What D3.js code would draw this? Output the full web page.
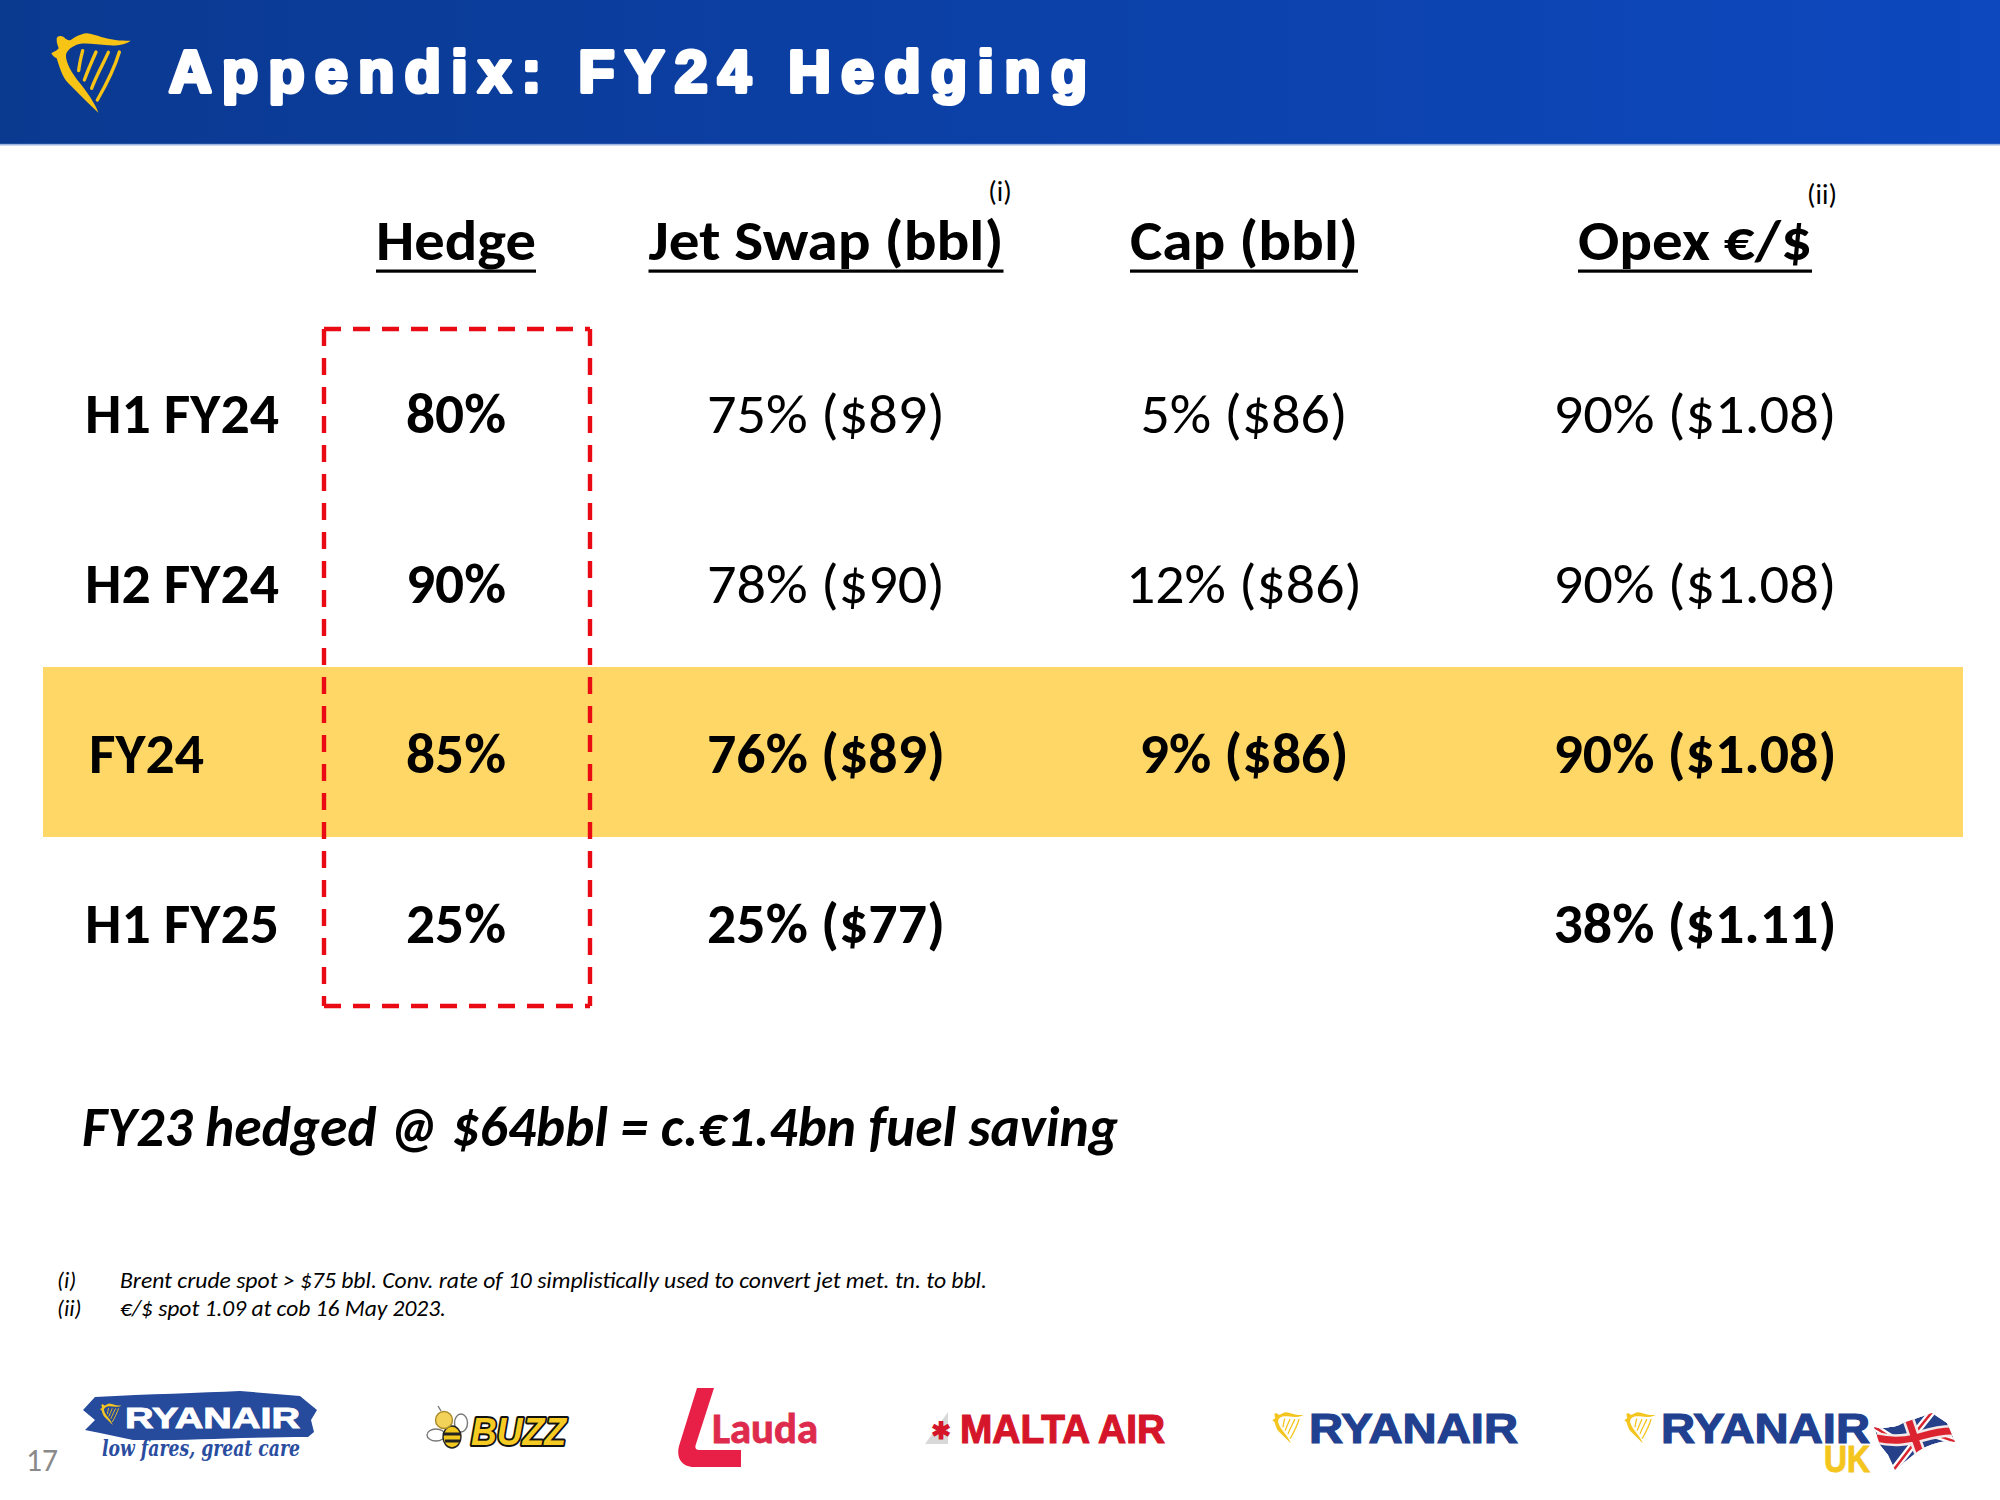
<!DOCTYPE html>
<html><head><meta charset="utf-8">
<script src="https://cdn.jsdelivr.net/npm/d3@7"></script>
<style>html,body{margin:0;padding:0;background:#fff}svg{display:block}</style>
</head><body><div id="chart"></div>
<script>
const titleText = "Appendix: FY24 Hedging";
const columns = ["Hedge","Jet Swap (bbl)","Cap (bbl)","Opex €/$"];
const rowLabels = ["H1 FY24","H2 FY24","FY24","H1 FY25"];
const hedge = ["80%","90%","85%","25%"];
const jetSwap = ["75% ($89)","78% ($90)","76% ($89)","25% ($77)"];
const cap = ["5% ($86)","12% ($86)","9% ($86)",""];
const opex = ["90% ($1.08)","90% ($1.08)","90% ($1.08)","38% ($1.11)"];
const boldRows = [false,false,true,true];
const note = "FY23 hedged @ $64bbl = c.€1.4bn fuel saving";
const footMarks = ["(i)","(ii)"];
const footnotes = ["Brent crude spot > $75 bbl. Conv. rate of 10 simplistically used to convert jet met. tn. to bbl.","€/$ spot 1.09 at cob 16 May 2023."];
const pageNumber = "17";

const W=2000,H=1500,FONT="Carlito,Lato,'Open Sans',sans-serif";
const svg=d3.select("#chart").append("svg").attr("width",W).attr("height",H).attr("viewBox",`0 0 ${W} ${H}`).style("font-family",FONT);
svg.append("rect").attr("width",W).attr("height",H).attr("fill","#fff");
const defs=svg.append("defs");
const g=defs.append("linearGradient").attr("id","hdr");
g.append("stop").attr("offset","0").attr("stop-color","#0a3990");
g.append("stop").attr("offset","1").attr("stop-color","#0d48be");
svg.append("rect").attr("width",W).attr("height",144).attr("fill","url(#hdr)");
svg.append("rect").attr("y",143.5).attr("width",W).attr("height",2).attr("fill","#5d83c4").attr("opacity",.6);

function harp(sel,x,y,s,fill){
  const h=sel.append("g").attr("transform",`translate(${x},${y}) scale(${s})`);
  h.append("path").attr("fill",fill).attr("d","M50,60 C48,48 62,45 72,52 C78,58 84,62 92,60 C105,52 120,42 140,40 C170,42 200,65 272,62 C260,72 235,78 205,76 C175,74 140,68 118,72 C95,78 80,92 78,105 C76,125 95,160 120,190 C140,215 165,250 175,278 C150,255 110,215 85,190 C65,170 55,130 50,115 C42,112 36,105 34,100 C42,95 52,92 56,85 C54,78 50,70 50,60Z");
  h.append("path").attr("fill","none").attr("stroke",fill).attr("stroke-width",10).attr("stroke-linecap","round")
    .attr("d","M128,92 C122,115 118,135 116,152 M168,96 C155,125 142,155 133,180 M205,97 C190,130 165,175 155,205 M238,96 C225,140 195,200 172,240");
}
harp(svg,40,20,1/3,"#f7c416");
svg.append("text").attr("x",169).attr("y",92).attr("fill","#fff").attr("stroke","#fff").attr("stroke-width",4.2).attr("stroke-linejoin","round")
  .style("font-family","'Liberation Sans',Arial,sans-serif").style("font-weight",700).style("font-size","59px")
  .attr("textLength",918).attr("lengthAdjust","spacing").text(titleText);

const x=d3.scalePoint().domain(columns).range([456,1695]);
const colX={"Hedge":456,"Jet Swap (bbl)":826,"Cap (bbl)":1244,"Opex €/$":1695};
const y=d3.scaleBand().domain(rowLabels).range([327,1007]).paddingInner(0).paddingOuter(0);

svg.append("rect").attr("x",43).attr("width",1920).attr("y",y("FY24")).attr("height",y.bandwidth()).attr("fill","#ffd766");

const FS=56;
const headerW={"Hedge":160,"Jet Swap (bbl)":355,"Cap (bbl)":228,"Opex €/$":234};
columns.forEach(c=>{
  svg.append("text").attr("x",colX[c]).attr("y",260).attr("text-anchor","middle")
    .style("font-weight",700).style("font-size",FS+"px").attr("fill","#000")
    .attr("textLength",headerW[c]).attr("lengthAdjust","spacingAndGlyphs").text(c);
  svg.append("rect").attr("x",colX[c]-headerW[c]/2).attr("y",269.5).attr("width",headerW[c]).attr("height",3.2).attr("fill","#000");
});
svg.append("text").attr("x",1000).attr("y",201).attr("text-anchor","middle").style("font-size","28px").text(footMarks[0]);
svg.append("text").attr("x",1822).attr("y",204).attr("text-anchor","middle").style("font-size","28px").text(footMarks[1]);

const labelX=[85,85,89,85], labelW=[194,194,115,194], capW=[207,236,209,0];
rowLabels.forEach((r,i)=>{
  const b=y(r)+y.bandwidth()/2+20.5;
  svg.append("text").attr("x",labelX[i]).attr("y",b).style("font-weight",700).style("font-size",FS+"px")
    .attr("textLength",labelW[i]).attr("lengthAdjust","spacingAndGlyphs").text(r);
  svg.append("text").attr("x",colX["Hedge"]).attr("y",b).attr("text-anchor","middle").style("font-weight",700).style("font-size",FS+"px")
    .attr("textLength",100).attr("lengthAdjust","spacingAndGlyphs").text(hedge[i]);
  const fw=boldRows[i]?700:400;
  [[jetSwap,"Jet Swap (bbl)",238],[cap,"Cap (bbl)",capW[i]],[opex,"Opex €/$",283]].forEach(([a,c,w])=>{
    if(a[i]) svg.append("text").attr("x",colX[c]).attr("y",b).attr("text-anchor","middle").style("font-weight",fw).style("font-size",FS+"px")
      .attr("textLength",w).attr("lengthAdjust","spacingAndGlyphs").text(a[i]);
  });
});

// dashed frame: each side dashed from its corner
const boxL=324,boxR=590,boxT=329,boxB=1006;
[[boxL,boxT,boxR,boxT],[boxL,boxT,boxL,boxB],[boxR,boxT,boxR,boxB],[boxL,boxB,boxR,boxB]].forEach(([a,b,c,e])=>{
  svg.append("line").attr("x1",a).attr("y1",b).attr("x2",c).attr("y2",e).attr("stroke","#ea0a14").attr("stroke-width",4.4).attr("stroke-dasharray","17 12");
});

svg.append("text").attr("x",82).attr("y",1146).style("font-weight",700).style("font-style","italic").style("font-size",FS+"px")
  .attr("textLength",1036).attr("lengthAdjust","spacingAndGlyphs").text(note);

const fy=[1288,1316], fw=[867,326];
footnotes.forEach((t,i)=>{
  svg.append("text").attr("x",57).attr("y",fy[i]).style("font-style","italic").style("font-size","23px").text(footMarks[i]);
  svg.append("text").attr("x",120).attr("y",fy[i]).style("font-style","italic").style("font-size","23px")
    .attr("textLength",fw[i]).attr("lengthAdjust","spacingAndGlyphs").text(t);
});
svg.append("text").attr("x",26).attr("y",1471).attr("fill","#8a8a8a").style("font-size","33px").style("font-weight",300)
  .attr("textLength",32).attr("lengthAdjust","spacingAndGlyphs").text(pageNumber);

/* Logos */
const LF="'Liberation Sans',Arial,sans-serif", BLUE="#21408f", RED="#d5152a", YEL="#f4c51e";
function logo(t,xx,yy,w,size,fill,extra){
  return svg.append("text").attr("x",xx).attr("y",yy).attr("fill",fill).attr("stroke",fill).attr("stroke-width",extra||1)
    .style("font-family",LF).style("font-weight",700).style("font-size",size+"px")
    .attr("textLength",w).attr("lengthAdjust","spacingAndGlyphs").text(t);
}
svg.append("path").attr("fill","#264a9c").attr("d","M83,1410 L95,1397 C150,1394 200,1393 240,1391 L300,1396 L306,1401 L317,1410 L311,1420 L314,1432 L308,1437 C250,1437 180,1441 133,1440 L100,1433 L85,1430 L95,1420 Z");
harp(svg,97,1400,.09,"#f4c51e");
logo("RYANAIR",125,1428,175,29,"#fff",.9);
svg.append("text").attr("x",102).attr("y",1456).attr("fill","#2a4d9f").style("font-family","'DejaVu Serif',serif").style("font-style","italic").style("font-weight",700).style("font-size","22px")
  .attr("textLength",198).attr("lengthAdjust","spacingAndGlyphs").text("low fares, great care");

// Buzz
const bee=svg.append("g").attr("stroke-width",1.4);
bee.append("ellipse").attr("cx",436).attr("cy",1435).attr("rx",9).attr("ry",6).attr("fill","#fff").attr("stroke","#777");
bee.append("ellipse").attr("cx",461).attr("cy",1423).attr("rx",6.5).attr("ry",9).attr("fill","#fff").attr("stroke","#777");
bee.append("ellipse").attr("cx",452).attr("cy",1437).attr("rx",9).attr("ry",11).attr("fill","#f2c81f").attr("stroke","#222");
bee.append("path").attr("d","M444,1434 L461,1434 M445,1441 L460,1441").attr("stroke","#222").attr("stroke-width",3.2);
bee.append("circle").attr("cx",444).attr("cy",1420).attr("r",8.5).attr("fill","#f3d25a").attr("stroke","#a88a2a");
bee.append("path").attr("d","M441,1411 L438,1406").attr("stroke","#777").attr("fill","none");
svg.append("text").attr("x",471).attr("y",1445).attr("fill","#f5cb23").attr("stroke","#111").attr("stroke-width",4).style("paint-order","stroke").attr("stroke-linejoin","round")
  .style("font-family",LF).style("font-weight",700).style("font-style","italic").style("font-size","39px")
  .attr("textLength",95).attr("lengthAdjust","spacingAndGlyphs").text("BUZZ");

// Lauda
svg.append("path").attr("fill","#e81f47").attr("d","M697,1388 L714,1388 L696,1444 C694,1449 697,1450 700,1450 L741,1450 L741,1467 L694,1467 C682,1467 676,1458 679,1446 Z");
svg.append("text").attr("x",712).attr("y",1443).attr("fill","#dd2a4d").attr("stroke","#dd2a4d").attr("stroke-width",.8).style("font-weight",700).style("font-size","42px")
  .attr("textLength",106).attr("lengthAdjust","spacingAndGlyphs").text("Lauda");

// Malta Air
svg.append("path").attr("fill","#d8d8d8").attr("d","M925,1444 L948,1412 L948,1444Z");
svg.append("text").attr("x",931).attr("y",1439).attr("fill",RED).style("font-size","24px").style("font-weight",700).text("✱");
logo("MALTA AIR",960,1443,205,41,RED,1.2);

// Ryanair
harp(svg,1268,1407,.13,YEL);
logo("RYANAIR",1309,1443,209,42,BLUE,1.2);

// Ryanair UK
harp(svg,1620,1407,.13,YEL);
logo("RYANAIR",1661,1443,209,42,BLUE,1.2);
logo("UK",1824,1472,46,37,YEL,1);

// Union flag
const flagD="M1874,1427 C1880,1429 1886,1428 1890,1427 C1896,1427 1899,1425 1903,1423 L1932,1413 L1947,1423 L1955,1442 C1949,1441 1943,1441 1937,1443 C1930,1445 1924,1447 1917,1452 L1895,1470 L1888,1455 L1880,1445 Z";
defs.append("clipPath").attr("id","flag").append("path").attr("d",flagD);
const fl=svg.append("g").attr("clip-path","url(#flag)").attr("fill","none");
fl.append("path").attr("d",flagD).attr("fill","#27408a");
const diag="M1872,1426 C1885,1432 1892,1442 1905,1440 M1932,1412 L1916,1432 M1956,1442 C1945,1438 1935,1434 1925,1433 M1892,1472 L1912,1446";
fl.append("path").attr("d",diag).attr("stroke","#fff").attr("stroke-width",7);
fl.append("path").attr("d",diag).attr("stroke","#d9232e").attr("stroke-width",2.5);
const cross="M1908,1418 C1912,1430 1917,1445 1922,1458 M1876,1438 C1895,1442 1908,1440 1922,1436 C1932,1433 1940,1431 1952,1431";
fl.append("path").attr("d",cross).attr("stroke","#f3e9e9").attr("stroke-width",12);
fl.append("path").attr("d",cross).attr("stroke","#dc2430").attr("stroke-width",7);
</script></body></html>
